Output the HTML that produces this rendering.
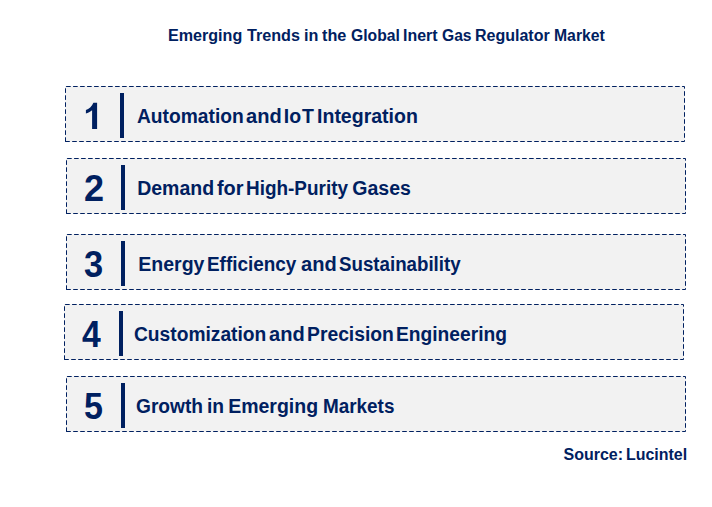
<!DOCTYPE html>
<html><head><meta charset="utf-8"><style>
html,body{margin:0;padding:0;background:#fff;width:712px;height:507px;overflow:hidden}
body{position:relative;font-family:"Liberation Sans",sans-serif;font-weight:bold;color:#002060}
svg{position:absolute;left:0;top:0}
.num{position:absolute;font-size:37.5px;line-height:38px;white-space:nowrap;transform-origin:0 0}
.w{position:absolute;font-size:19.5px;line-height:20px;white-space:nowrap;transform-origin:0 0}
.tw{position:absolute;font-size:16px;line-height:16px;white-space:nowrap;transform-origin:0 0}
</style></head><body>
<svg width="712" height="507" viewBox="0 0 712 507"><rect x="65" y="86" width="620" height="56" fill="#f2f2f2"/><path d="M66.1 86.5H684.5V88.65M684.5 91.2V141.5H681.2M678.8 141.5H65.5M65.5 141.9V86.5" fill="none" stroke="#002060" stroke-width="1" stroke-dasharray="4.6 2.4"/><rect x="120" y="93" width="4" height="45" fill="#002060"/><path d="M93.4 102.8H97.1V129H92.1V110.3C90.3 111.6 88 112.9 85.9 113.6V110.1C88.8 109 92 106.5 93.4 102.8Z" fill="#002060"/><rect x="66" y="158" width="620" height="56" fill="#f2f2f2"/><path d="M67.1 158.5H685.5V160.65M685.5 163.2V213.5H682.2M679.8 213.5H66.5M66.5 213.9V158.5" fill="none" stroke="#002060" stroke-width="1" stroke-dasharray="4.6 2.4"/><rect x="121" y="165" width="4" height="45" fill="#002060"/><rect x="66" y="234" width="620" height="56" fill="#f2f2f2"/><path d="M67.1 234.5H685.5V236.65M685.5 239.2V289.5H682.2M679.8 289.5H66.5M66.5 289.9V234.5" fill="none" stroke="#002060" stroke-width="1" stroke-dasharray="4.6 2.4"/><rect x="121" y="241" width="4" height="45" fill="#002060"/><rect x="64" y="304" width="620" height="56" fill="#f2f2f2"/><path d="M65.1 304.5H683.5V306.65M683.5 309.2V359.5H680.2M677.8 359.5H64.5M64.5 359.9V304.5" fill="none" stroke="#002060" stroke-width="1" stroke-dasharray="4.6 2.4"/><rect x="119" y="311" width="4" height="45" fill="#002060"/><rect x="66" y="376" width="620" height="56" fill="#f2f2f2"/><path d="M67.1 376.5H685.5V378.65M685.5 381.2V431.5H682.2M679.8 431.5H66.5M66.5 431.9V376.5" fill="none" stroke="#002060" stroke-width="1" stroke-dasharray="4.6 2.4"/><rect x="121" y="383" width="4" height="45" fill="#002060"/></svg>
<div class="num" style="left:83.70px;top:169.05px;transform:scaleX(0.961)">2</div><div class="num" style="left:83.98px;top:244.90px;transform:scaleX(0.919)">3</div><div class="num" style="left:82.45px;top:314.55px;transform:scaleX(0.899)">4</div><div class="num" style="left:83.97px;top:386.55px;transform:scaleX(0.908)">5</div><span class="w" style="left:136.51px;top:106px;transform:scaleX(0.9850)">Automation</span><span class="w" style="left:245.59px;top:106px;transform:scaleX(1.0290)">and</span><span class="w" style="left:283.85px;top:106px">I</span><span class="w" style="left:289.35px;top:106px">o</span><span class="w" style="left:301.95px;top:106px">T</span><span class="w" style="left:317.05px;top:106px">Integration</span><span class="w" style="left:137.15px;top:178px">Demand</span><span class="w" style="left:217.35px;top:178px;transform:scaleX(1.0196)">for</span><span class="w" style="left:245.89px;top:178px;transform:scaleX(0.9706)">High-Purity</span><span class="w" style="left:352.35px;top:178px">Gases</span><span class="w" style="left:138.35px;top:254px">Energy</span><span class="w" style="left:207.09px;top:254px;transform:scaleX(0.9697)">Efficiency</span><span class="w" style="left:300.69px;top:254px;transform:scaleX(1.0290)">and</span><span class="w" style="left:339.42px;top:254px;transform:scaleX(0.9595)">Sustainability</span><span class="w" style="left:133.96px;top:324px;transform:scaleX(0.9849)">Customization</span><span class="w" style="left:268.89px;top:324px;transform:scaleX(1.0290)">and</span><span class="w" style="left:307.26px;top:324px;transform:scaleX(0.9900)">Precision</span><span class="w" style="left:396.47px;top:324px;transform:scaleX(0.9845)">Engineering</span><span class="w" style="left:136.16px;top:396px;transform:scaleX(0.9826)">Growth</span><span class="w" style="left:207.07px;top:396px;transform:scaleX(0.9867)">in</span><span class="w" style="left:228.15px;top:396px">Emerging</span><span class="w" style="left:322.69px;top:396px;transform:scaleX(0.9686)">Markets</span><span class="tw" style="left:167.79px;top:28px;transform:scaleX(1.0063)">Emerging</span><span class="tw" style="left:247.05px;top:28px;transform:scaleX(1.0097)">Trends</span><span class="tw" style="left:303.99px;top:28px;transform:scaleX(1.0122)">in</span><span class="tw" style="left:321.75px;top:28px;transform:scaleX(1.0151)">the</span><span class="tw" style="left:350.56px;top:28px;transform:scaleX(0.9801)">Global</span><span class="tw" style="left:402.71px;top:28px;transform:scaleX(0.9940)">Inert</span><span class="tw" style="left:441.67px;top:28px;transform:scaleX(0.9774)">Gas</span><span class="tw" style="left:475.00px;top:28px">Regulator</span><span class="tw" style="left:554.22px;top:28px;transform:scaleX(0.9842)">Market</span><span class="tw" style="left:563.50px;top:447px">Source:</span><span class="tw" style="left:626.10px;top:447px;transform:scaleX(0.9958)">Lucintel</span>
</body></html>
